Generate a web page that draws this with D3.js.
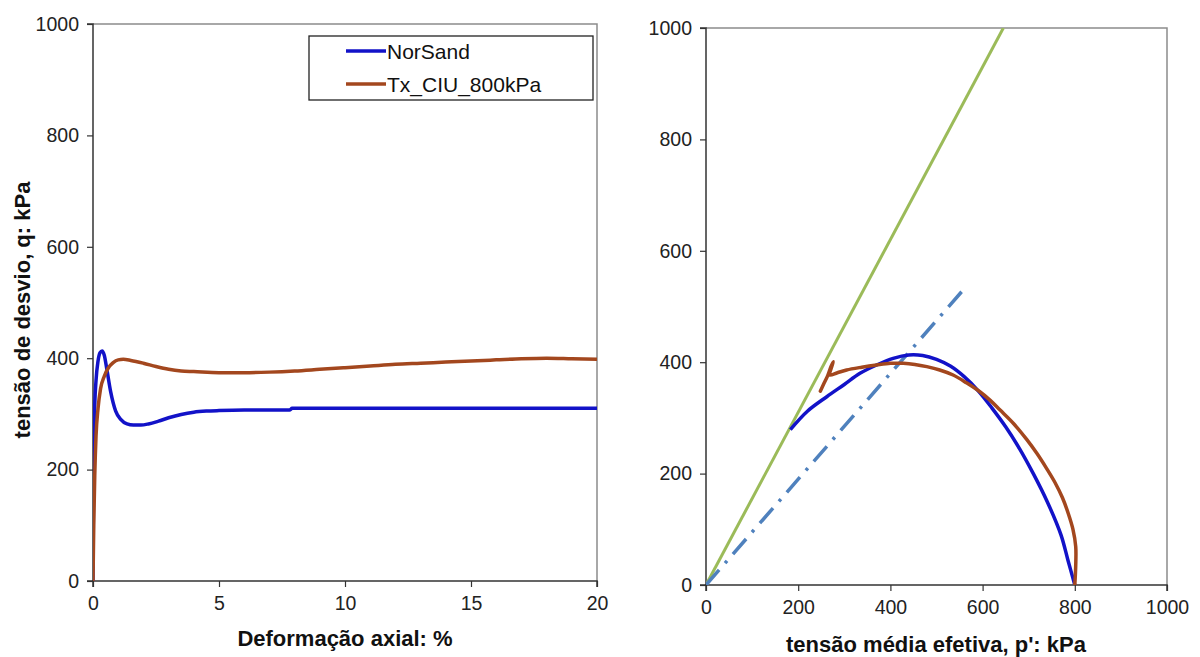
<!DOCTYPE html>
<html>
<head>
<meta charset="utf-8">
<script src="https://cdn.jsdelivr.net/npm/d3@7"></script>
<style>
  html, body { margin: 0; padding: 0; background: #fff; }
  svg { display: block; font-family: "Liberation Sans", Arial, sans-serif; }
  .tick text { fill: #222; font-size: 19.5px; }
  .axis-title { font-weight: bold; font-size: 22px; fill: #111; }
  .legend text { font-size: 21px; fill: #111; }
</style>
</head>
<body>
<svg id="chart" width="1200" height="657"></svg>
<script>
// ---- Stress–strain curves: deviator stress q (kPa) vs axial strain (%) ----
const strainNorSand = [0, 0.02, 0.06, 0.12, 0.2, 0.28, 0.36, 0.45, 0.55, 0.7, 0.9, 1.1, 1.35, 1.6, 1.9, 2.2, 2.6, 3.0, 3.5, 4.0, 4.5, 5.0, 6.0, 7.0, 7.8, 7.9, 10, 15, 20];
const qNorSand      = [0, 180, 300, 360, 395, 410, 413, 405, 380, 340, 305, 290, 282, 280, 280, 282, 287, 293, 299, 303, 305, 306, 307, 307, 307, 310, 310, 310, 310];

const strainTx = [0, 0.03, 0.07, 0.12, 0.2, 0.3, 0.45, 0.6, 0.8, 1.0, 1.2, 1.5, 2.0, 2.5, 3.0, 3.5, 4.0, 5.0, 6.0, 7.0, 8.0, 9.0, 10, 11, 12, 13, 14, 15, 16, 17, 18, 19, 20];
const qTx      = [0, 100, 190, 260, 310, 345, 368, 382, 392, 397, 398, 396, 391, 385, 380, 377, 376, 374, 374, 375, 377, 380, 383, 386, 389, 391, 393, 395, 397, 399, 400, 399, 398];

// ---- Stress paths: q (kPa) vs mean effective stress p' (kPa) ----
const pPathNorSand = [800, 785, 770, 740, 710, 680, 650, 620, 590, 560, 530, 500, 470, 440, 406, 370, 334, 300, 262, 220, 183];
const qPathNorSand = [0, 45, 90, 150, 200, 245, 284, 318, 349, 374, 393, 405, 412, 413, 407, 395, 380, 360, 338, 312, 279];

const pPathTx = [800, 802, 802, 796, 786, 773, 757, 739, 718, 696, 667, 638, 616, 594, 565, 536, 507, 479, 453, 428, 400, 370, 338, 305, 285, 268, 272, 276, 271, 264, 256, 248];
const qPathTx = [0, 35, 69, 100, 128, 157, 184, 209, 236, 261, 290, 314, 332, 347, 363, 377, 386, 392, 396, 398, 398, 395, 391, 386, 381, 377, 390, 401, 392, 376, 362, 348];

// Critical state line (solid) and reference line (dash-dot)
const pCSL = [0, 645];
const qCSL = [0, 1000];
const pRef = [0, 555];
const qRef = [0, 527];

// Axis ticks
const qTicks = [0, 200, 400, 600, 800, 1000];
const strainTicks = [0, 5, 10, 15, 20];
const pTicks = [0, 200, 400, 600, 800, 1000];

const seriesNames = ["NorSand", "Tx_CIU_800kPa"];
const colors = { norsand: "#1212C8", tx: "#A3471E", csl: "#9BBB59", ref: "#4F81BD" };

const svg = d3.select("#chart");

function zip(a, b) { return a.map((v, i) => [v, b[i]]); }

function panel(cfg) {
  const x = d3.scaleLinear().domain(cfg.xDomain).range([cfg.left, cfg.right]);
  const y = d3.scaleLinear().domain([0, 1000]).range([cfg.bottom, cfg.top]);
  const g = svg.append("g");

  // clip region for the plot area
  const clipId = "clip-" + cfg.id;
  svg.append("clipPath").attr("id", clipId).append("rect")
    .attr("x", cfg.left).attr("y", cfg.top)
    .attr("width", cfg.right - cfg.left).attr("height", cfg.bottom - cfg.top);

  // plot-area frame (top and right sides)
  g.append("path")
    .attr("d", `M${cfg.left},${cfg.top}H${cfg.right}V${cfg.bottom}`)
    .attr("fill", "none").attr("stroke", "#8c8c8c").attr("stroke-width", 1.5);

  const xAxis = g.append("g").attr("transform", `translate(0,${cfg.bottom})`)
    .call(d3.axisBottom(x).tickValues(cfg.xTicks).tickSize(6).tickPadding(9).tickFormat(d3.format("d")));
  const yAxis = g.append("g").attr("transform", `translate(${cfg.left},0)`)
    .call(d3.axisLeft(y).tickValues(qTicks).tickSize(6).tickPadding(8).tickFormat(d3.format("d")));
  [xAxis, yAxis].forEach(a => {
    a.select(".domain").attr("stroke", "#333").attr("stroke-width", 1.5);
    a.selectAll(".tick line").attr("stroke", "#333").attr("stroke-width", 1.2);
    a.selectAll("text").attr("font-family", null).attr("font-size", null);
  });
  xAxis.select(".domain").attr("d", `M${cfg.left},6V0H${cfg.right}V6`);
  yAxis.select(".domain").attr("d", `M-6,${cfg.bottom}H0V${cfg.top}H-6`);

  const plot = g.append("g").attr("clip-path", `url(#${clipId})`);
  return { x, y, g, plot };
}

// ---------- Left panel ----------
const L = panel({ id: "left", left: 93, right: 597, top: 24, bottom: 581,
  xDomain: [0, 20], xTicks: strainTicks });

const lineL = d3.line().x(d => L.x(d[0])).y(d => L.y(d[1])).curve(d3.curveMonotoneX);
L.plot.append("path").datum(zip(strainNorSand, qNorSand))
  .attr("d", lineL).attr("fill", "none").attr("stroke", colors.norsand)
  .attr("stroke-width", 3.5).attr("stroke-linejoin", "round");
L.plot.append("path").datum(zip(strainTx, qTx))
  .attr("d", lineL).attr("fill", "none").attr("stroke", colors.tx)
  .attr("stroke-width", 3.5).attr("stroke-linejoin", "round");

L.g.append("text").attr("class", "axis-title")
  .attr("x", 345).attr("y", 646).attr("text-anchor", "middle")
  .text("Deformação axial: %");
L.g.append("text").attr("class", "axis-title")
  .attr("transform", "translate(30,310) rotate(-90)").attr("text-anchor", "middle")
  .text("tensão de desvio, q: kPa");

// legend
const leg = L.g.append("g").attr("class", "legend");
leg.append("rect").attr("x", 309).attr("y", 36).attr("width", 284).attr("height", 64)
  .attr("fill", "#fff").attr("stroke", "#222").attr("stroke-width", 1.3);
[colors.norsand, colors.tx].forEach((c, i) => {
  const yy = 51 + i * 33;
  leg.append("line").attr("x1", 346).attr("x2", 386).attr("y1", yy).attr("y2", yy)
    .attr("stroke", c).attr("stroke-width", 3.5);
  leg.append("text").attr("x", 387).attr("y", yy + 7.5).text(seriesNames[i]);
});

// ---------- Right panel ----------
const R = panel({ id: "right", left: 706, right: 1167, top: 28, bottom: 585,
  xDomain: [0, 1000], xTicks: pTicks });

const lineR = d3.line().x(d => R.x(d[0])).y(d => R.y(d[1]));
const curveR = d3.line().x(d => R.x(d[0])).y(d => R.y(d[1])).curve(d3.curveCatmullRom.alpha(0.5));

R.plot.append("path").datum(zip(pCSL, qCSL))
  .attr("d", lineR).attr("fill", "none").attr("stroke", colors.csl).attr("stroke-width", 3);
R.plot.append("path").datum(zip(pRef, qRef))
  .attr("d", lineR).attr("fill", "none").attr("stroke", colors.ref).attr("stroke-width", 3.5)
  .attr("stroke-dasharray", "20,9,3,9");
R.plot.append("path").datum(zip(pPathNorSand, qPathNorSand))
  .attr("d", curveR).attr("fill", "none").attr("stroke", colors.norsand)
  .attr("stroke-width", 3.5).attr("stroke-linejoin", "round");
R.plot.append("path").datum(zip(pPathTx, qPathTx))
  .attr("d", curveR).attr("fill", "none").attr("stroke", colors.tx)
  .attr("stroke-width", 3.5).attr("stroke-linejoin", "round").attr("stroke-linecap", "round");

R.g.append("text").attr("class", "axis-title")
  .attr("x", 936).attr("y", 652).attr("text-anchor", "middle")
  .text("tensão média efetiva, p': kPa");
</script>
</body>
</html>
